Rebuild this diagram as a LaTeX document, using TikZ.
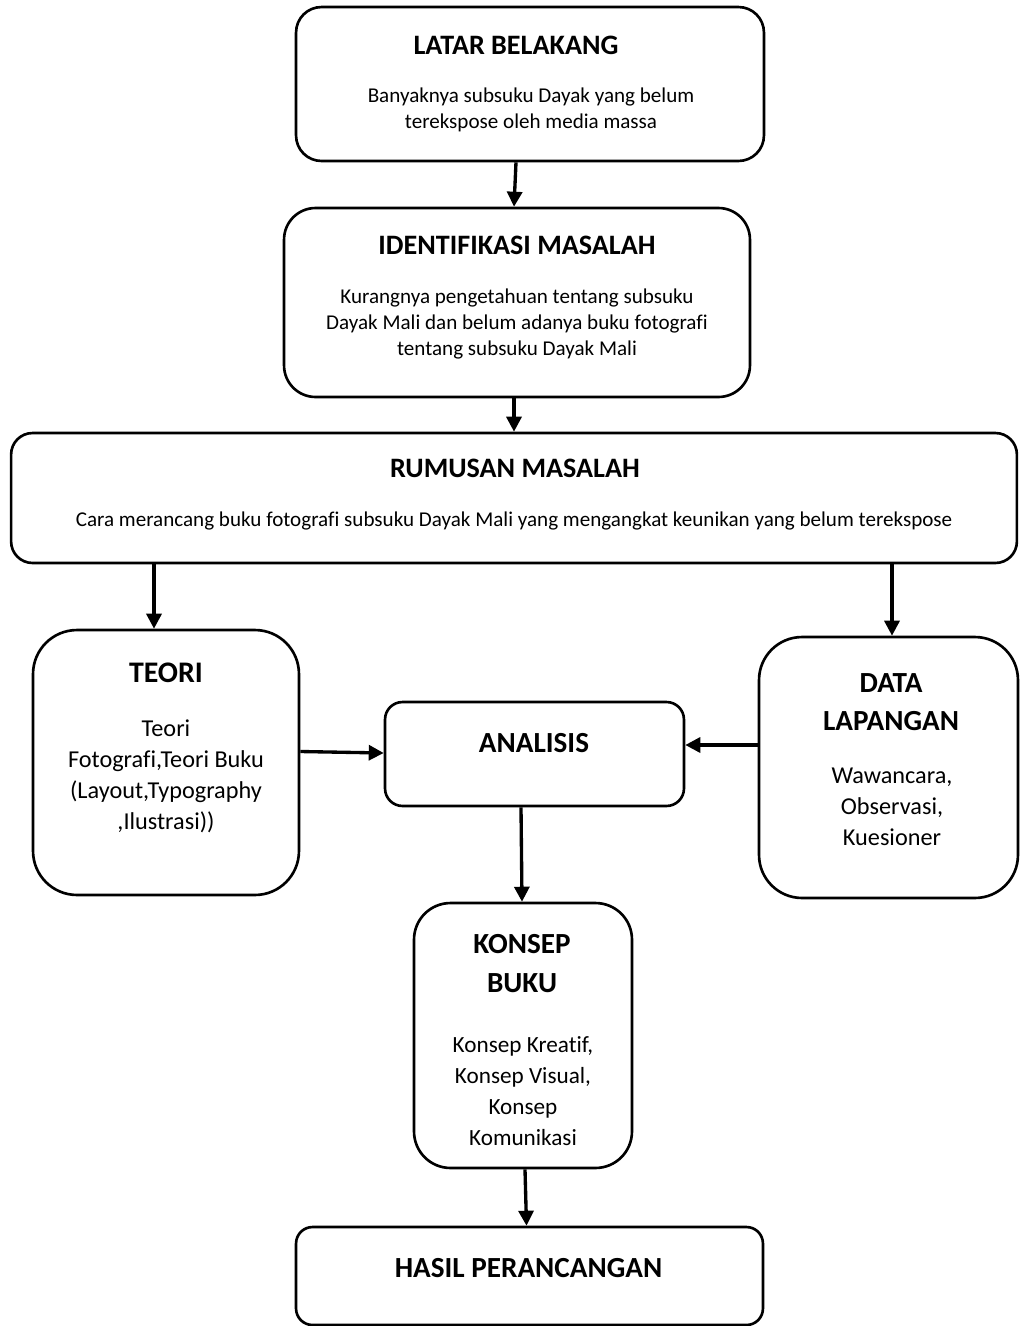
\documentclass[tikz,border=0pt]{standalone}
\usepackage{fontspec}
\setmainfont{Carlito}[Ligatures=NoCommon]
\usetikzlibrary{arrows.meta,calc}

\begin{document}
\begin{tikzpicture}[x=0.02cm,y=-0.02cm,
    panel/.style={draw,line width=1.5pt,rounded corners=#1,inner sep=0pt},
    head/.style={font=\fontsize{16}{22}\selectfont\bfseries,align=center,inner sep=0pt},
    bighead/.style={font=\fontsize{16.6}{22}\selectfont\bfseries,align=center,inner sep=0pt},
    body/.style={font=\fontsize{12}{14.8}\selectfont,align=center,inner sep=0pt},
    bigbody/.style={font=\fontsize{13.8}{17.6}\selectfont,align=center,inner sep=0pt},
    arr/.style={-{Triangle[length=0.3cm,width=0.3cm]},line width=1.9pt}]
  \useasboundingbox (0,0) rectangle (1019,1326);

  % boxes
  \node[panel=0.51cm,minimum width=9.36cm,minimum height=3.08cm] (latar) at (530,84) {};
  \node[panel=0.63cm,minimum width=9.32cm,minimum height=3.78cm] (ident) at (517,302.5) {};
  \node[panel=0.43cm,minimum width=20.12cm,minimum height=2.6cm] (rumusan) at (514,498) {};
  \node[panel=0.88cm,minimum width=5.32cm,minimum height=5.3cm] (teori) at (166,762.5) {};
  \node[panel=0.35cm,minimum width=5.98cm,minimum height=2.08cm] (analisis) at (534.5,754) {};
  \node[panel=0.86cm,minimum width=5.18cm,minimum height=5.22cm] (data) at (888.5,767.5) {};
  \node[panel=0.73cm,minimum width=4.36cm,minimum height=5.3cm] (konsep) at (523,1035.5) {};
  \node[panel=0.33cm,minimum width=9.34cm,minimum height=1.96cm] (hasil) at (529.5,1276) {};

  % texts
  \node[head] (latarT) at (516,45) {LATAR BELAKANG};
  \node[body] (latarB) at (531,110) {Banyaknya subsuku Dayak yang belum\\terekspose oleh media massa};
  \node[head] (identT) at (517,245) {IDENTIFIKASI MASALAH};
  \node[body] (identB) at (517,324) {Kurangnya pengetahuan tentang subsuku\\Dayak Mali dan belum adanya buku fotografi\\tentang subsuku Dayak Mali};
  \node[head] (rumusanT) at (515,468) {RUMUSAN MASALAH};
  \node[body] (rumusanB) at (514,521) {Cara merancang buku fotografi subsuku Dayak Mali yang mengangkat keunikan yang belum terekspose};
  \node[bighead,font=\fontsize{17}{22}\selectfont\bfseries] (teoriT) at (166,673) {TEORI};
  \node[bigbody] (teoriB) at (166,776.5) {Teori\\Fotografi,Teori Buku\\(Layout,Typography\\,Ilustrasi))};
  \node[bighead] (analisisT) at (534,743) {ANALISIS};
  \node[bighead] (dataT) at (891,702) {DATA\\LAPANGAN};
  \node[bigbody] (dataB) at (892,807) {Wawancara,\\Observasi,\\Kuesioner};
  \node[bighead] (konsepT) at (522,963.5) {KONSEP\\BUKU};
  \node[bigbody,font=\fontsize{13.2}{17.6}\selectfont] (konsepB) at (523,1091) {Konsep Kreatif,\\Konsep Visual,\\Konsep\\Komunikasi};
  \node[bighead] (hasilT) at (528.5,1268) {HASIL PERANCANGAN};

  % arrows
  \coordinate (tA) at ($(teori.north)+(-12,0)$);
  \coordinate (dA) at ($(data.north)+(3.5,0)$);
  \draw[arr] ($(latar.south)+(-14,0)$) -- ($(ident.north)+(-3,0)$);
  \draw[arr] ($(ident.south)+(-3,0)$) -- (rumusan.north);
  \draw[arr] (rumusan.south -| tA) -- (tA);
  \draw[arr] (rumusan.south -| dA) -- (dA);
  \draw[arr] ($(teori.east)+(0,-11)$) -- ($(analisis.west)+(0,-1)$);
  \draw[arr] ($(data.west)+(0,-22.5)$) -- ($(analisis.east)+(0,-9)$);
  \draw[arr] ($(analisis.south)+(-13.5,0)$) -- ($(konsep.north)+(-1,0)$);
  \draw[arr] ($(konsep.south)+(2,0)$) -- ($(hasil.north)+(-3,0)$);
\end{tikzpicture}
\end{document}
